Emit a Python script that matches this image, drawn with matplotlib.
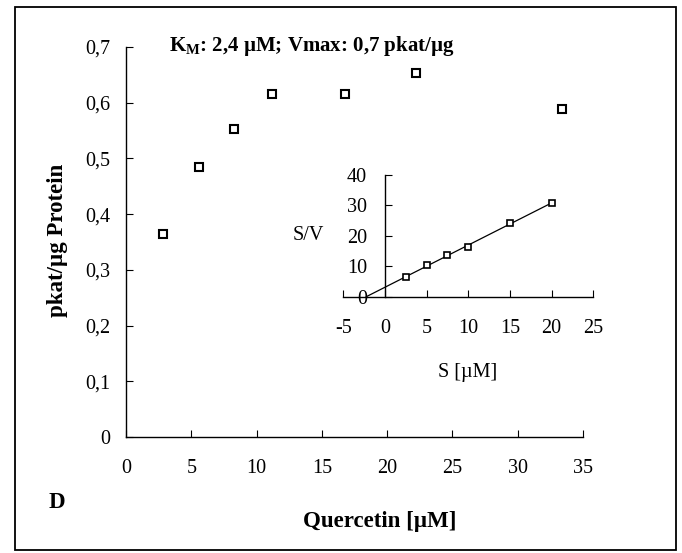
import numpy as np
import matplotlib
matplotlib.use("Agg")
import matplotlib.pyplot as plt
from matplotlib.patches import Rectangle
from matplotlib.ticker import FuncFormatter

plt.rcParams['font.family'] = ['Liberation Serif', 'DejaVu Serif']
plt.rcParams['mathtext.fontset'] = 'custom'
plt.rcParams['mathtext.rm'] = 'Liberation Serif'
plt.rcParams['mathtext.bf'] = 'Liberation Serif:bold'
plt.rcParams['axes.unicode_minus'] = False

# Enzyme activity vs. quercetin concentration
quercetin = [2.8, 5.6, 8.3, 11.2, 16.8, 22.2, 33.4]
activity = [0.364, 0.485, 0.552, 0.616, 0.616, 0.653, 0.588]

# Hanes-Woolf linearisation (S/V vs S)
hw_s = [2.5, 5.0, 7.5, 10.0, 15.0, 20.0]
hw_sv = [6.5, 10.3, 13.7, 16.3, 24.2, 30.8]

main_xticks = [0, 5, 10, 15, 20, 25, 30, 35]
main_yticks = [0, 0.1, 0.2, 0.3, 0.4, 0.5, 0.6, 0.7]
inset_xticks = [-5, 0, 5, 10, 15, 20, 25]
inset_yticks = [0, 10, 20, 30, 40]

W, H = 682, 553
fig = plt.figure(figsize=(W / 100, H / 100), dpi=100)

def frac(x0, y0, x1, y1):
    return [x0 / W, 1 - y1 / H, (x1 - x0) / W, (y1 - y0) / H]

TICK_FS = 14.5

# outer frame
fig.patches.append(Rectangle((15 / W, 3 / H), (676 - 15) / W, (548 - 5) / H,
                             transform=fig.transFigure, fill=False,
                             edgecolor='black', linewidth=1.3))

ax = fig.add_axes(frac(126, 47, 583, 437))
ax.plot(quercetin, activity, linestyle='none', marker='s', ms=6.2,
        mfc='white', mec='black', mew=1.5)
ax.set_xlim(0, 35)
ax.set_ylim(0, 0.7)
ax.set_xticks(main_xticks)
ax.set_yticks(main_yticks)
ax.yaxis.set_major_formatter(FuncFormatter(
    lambda v, p: '0' if v == 0 else f'{v:.1f}'.replace('.', ',')))
for s in ('top', 'right'):
    ax.spines[s].set_visible(False)
for s in ('left', 'bottom'):
    ax.spines[s].set_linewidth(1.0)
ax.tick_params(axis='x', direction='in', length=5, width=0.8, pad=16,
               labelsize=TICK_FS)
ax.tick_params(axis='y', direction='in', length=5, width=0.8, pad=11,
               labelsize=TICK_FS)

fig.text(57 / W, 1 - 240 / H, 'pkat/µg Protein', rotation=90,
         ha='center', va='center', fontsize=16.5, fontweight='bold')
fig.text(380 / W, 1 - 522 / H, 'Quercetin [µM]', ha='center', va='center',
         fontsize=16.5, fontweight='bold')
fig.text(57 / W, 1 - 503 / H, 'D', ha='center', va='center',
         fontsize=16.5, fontweight='bold')
fig.text(169 / W, 1 - 46 / H,
         r'$\mathbf{K_{M}}$' + ': 2,4 µM; Vmax: 0,7 pkat/µg',
         ha='left', va='center', fontsize=15, fontweight='bold')

# inset: Hanes-Woolf plot
ins = fig.add_axes(frac(343.3, 175, 593.3, 296.7))
ins.patch.set_alpha(0)
ins.plot(hw_s, hw_sv, linestyle='none', marker='s', ms=3.8,
         mfc='white', mec='black', mew=1.2, zorder=3)
slope, intercept = np.polyfit(hw_s, hw_sv, 1)
x_int = -intercept / slope
xf = np.array([x_int, max(hw_s)])
ins.plot(xf, slope * xf + intercept, color='black', lw=0.9)
ins.set_xlim(-5, 25)
ins.set_ylim(0, 40)
ins.set_xticks(inset_xticks)
ins.set_yticks(inset_yticks)
ins.spines['left'].set_position(('data', 0))
for s in ('top', 'right'):
    ins.spines[s].set_visible(False)
for s in ('left', 'bottom'):
    ins.spines[s].set_linewidth(1.0)
ins.tick_params(axis='x', direction='in', length=5, width=0.8, pad=16,
                labelsize=TICK_FS)
ins.tick_params(axis='y', direction='in', length=5, width=0.8, pad=13,
                labelsize=TICK_FS)
fig.text(308 / W, 1 - 235 / H, 'S/V', ha='center', va='center',
         fontsize=TICK_FS)
fig.text(468 / W, 1 - 372 / H, 'S [µM]', ha='center', va='center',
         fontsize=TICK_FS)

fig.savefig('out.png', dpi=100)
